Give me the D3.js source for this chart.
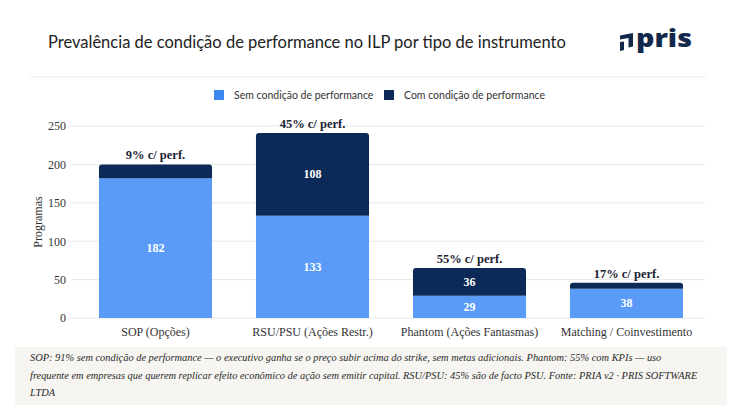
<!DOCTYPE html>
<html>
<head>
<meta charset="utf-8">
<script src="https://cdn.jsdelivr.net/npm/d3@7"></script>
<style>
  body { margin: 0; background: #fff; }
  svg { display: block; }
</style>
</head>
<body>
<div id="chart"></div>
<script>
// data
var categories = ["SOP (Opções)", "RSU/PSU (Ações Restr.)", "Phantom (Ações Fantasmas)", "Matching / Coinvestimento"];
var semPerf = [182, 133, 29, 38];
var comPerf = [18, 108, 36, 8];
var pctLabels = ["9% c/ perf.", "45% c/ perf.", "55% c/ perf.", "17% c/ perf."];
var yTicks = [0, 50, 100, 150, 200, 250];
var seriesNames = ["Sem condição de performance", "Com condição de performance"];
var footLines = [
  "SOP: 91% sem condição de performance — o executivo ganha se o preço subir acima do strike, sem metas adicionais. Phantom: 55% com KPIs — uso",
  "frequente em empresas que querem replicar efeito econômico de ação sem emitir capital. RSU/PSU: 45% são de facto PSU. Fonte: PRIA v2 · PRIS SOFTWARE",
  "LTDA"
];

var width = 740, height = 416;
var lightBlue = "#5a9bf7", navy = "#0c2a57";
var serif = "'Liberation Serif', serif";
var sans = "Lato, 'Noto Sans', sans-serif";

var svg = d3.select("#chart").append("svg")
  .attr("width", width).attr("height", height);

// title + logo
svg.append("text")
  .attr("x", 48).attr("y", 48)
  .style("font-family", sans).style("font-size", "16.5px").attr("fill", "#222")
  .text("Prevalência de condição de performance no ILP por tipo de instrumento");

var logo = svg.append("g").attr("transform", "translate(619,32)");
logo.append("path")
  .attr("d", "M1,3.5 L14,1 L14,14.5 L9.5,15.5 L9.5,6 L1,7.5 Z M1,10 L5,9.5 L5,18 L1,19 Z")
  .attr("fill", "#13294b");
logo.append("text")
  .attr("x", 17).attr("y", 14.5)
  .attr("textLength", 56).attr("lengthAdjust", "spacingAndGlyphs")
  .style("font-family", "'Open Sans', sans-serif").style("font-weight", 800).style("font-size", "24px")
  .attr("fill", "#13294b")
  .text("pris");

svg.append("line")
  .attr("x1", 30).attr("x2", 706).attr("y1", 77).attr("y2", 77)
  .attr("stroke", "#ececec").attr("stroke-width", 1.2);

// legend
var legendX = [214, 384];
var legend = svg.selectAll(".legend").data(seriesNames).enter().append("g")
  .attr("transform", (d, i) => "translate(" + legendX[i] + ",90)");
legend.append("rect").attr("width", 10).attr("height", 10)
  .attr("fill", (d, i) => i == 0 ? "#3d87f0" : navy);
legend.append("text").attr("x", 20).attr("y", 8.5)
  .style("font-family", sans).style("font-size", "10.5px").attr("fill", "#333")
  .text(d => d);

// scales
var x = d3.scaleBand().domain(categories).range([77, 705]).paddingInner(0.28).paddingOuter(0.14);
var y = d3.scaleLinear().domain([0, 250]).range([318, 126]);

// grid
svg.append("g").selectAll("line").data(yTicks).enter().append("line")
  .attr("x1", 72).attr("x2", 705)
  .attr("y1", d => y(d)).attr("y2", d => y(d))
  .attr("stroke", "#e8e8e8").attr("stroke-width", 1);

var yAxis = svg.append("g").attr("transform", "translate(72,0)")
  .call(d3.axisLeft(y).tickValues(yTicks).tickSize(0).tickPadding(6));
yAxis.select(".domain").remove();
yAxis.selectAll("text").style("font-family", serif).style("font-size", "12px").attr("fill", "#333");

svg.append("text")
  .attr("transform", "translate(42,222) rotate(-90)")
  .attr("text-anchor", "middle")
  .style("font-family", serif).style("font-size", "12px").attr("fill", "#333")
  .text("Programas");

var xAxis = svg.append("g").attr("transform", "translate(0,318)")
  .call(d3.axisBottom(x).tickSize(0).tickPadding(9));
xAxis.select(".domain").remove();
xAxis.selectAll("text").style("font-family", serif).style("font-size", "12px").attr("fill", "#333");

// bars
var rows = categories.map((c, i) => ({ cat: c, sem: semPerf[i], com: comPerf[i], pct: pctLabels[i] }));

function topRounded(x0, y0, w, h, r) {
  return "M" + x0 + "," + (y0 + h) + "V" + (y0 + r) + "Q" + x0 + "," + y0 + " " + (x0 + r) + "," + y0 +
    "H" + (x0 + w - r) + "Q" + (x0 + w) + "," + y0 + " " + (x0 + w) + "," + (y0 + r) + "V" + (y0 + h) + "Z";
}

var bars = svg.append("g").selectAll("g").data(rows).enter().append("g");

bars.append("rect")
  .attr("x", d => x(d.cat)).attr("width", x.bandwidth())
  .attr("y", d => y(d.sem)).attr("height", d => y(0) - y(d.sem))
  .attr("fill", lightBlue);

bars.append("path")
  .attr("d", d => topRounded(x(d.cat), y(d.sem + d.com), x.bandwidth(), y(d.sem) - y(d.sem + d.com), 3))
  .attr("fill", navy);

bars.filter(d => y(0) - y(d.sem) > 20).append("text")
  .attr("x", d => x(d.cat) + x.bandwidth() / 2)
  .attr("y", d => (y(0) + y(d.sem)) / 2 + 4)
  .attr("text-anchor", "middle")
  .style("font-family", serif).style("font-size", "12px").style("font-weight", 700).attr("fill", "#fff")
  .text(d => d.sem);

bars.filter(d => y(d.sem) - y(d.sem + d.com) > 20).append("text")
  .attr("x", d => x(d.cat) + x.bandwidth() / 2)
  .attr("y", d => (y(d.sem) + y(d.sem + d.com)) / 2 + 4)
  .attr("text-anchor", "middle")
  .style("font-family", serif).style("font-size", "12px").style("font-weight", 700).attr("fill", "#fff")
  .text(d => d.com);

bars.append("text")
  .attr("x", d => x(d.cat) + x.bandwidth() / 2)
  .attr("y", d => y(d.sem + d.com) - 5)
  .attr("text-anchor", "middle")
  .style("font-family", serif).style("font-size", "12.5px").style("font-weight", 700).attr("fill", "#1a2233")
  .text(d => d.pct);

// footer note - size the font so the longest line fills the box like the original
svg.append("rect")
  .attr("x", 15).attr("y", 347).attr("width", 712).attr("height", 58)
  .attr("fill", "#f6f5f1");
var foot = svg.append("g").selectAll("text").data(footLines).enter().append("text")
  .attr("x", 30).attr("y", (d, i) => 361 + i * 17.5)
  .style("font-family", serif).style("font-style", "italic").style("font-size", "12px").attr("fill", "#2a2a2a")
  .text(d => d);
var widest = d3.max(foot.nodes(), n => n.getComputedTextLength());
var footSize = Math.min(12.5, 12 * 668 / widest);
foot.style("font-size", footSize + "px");
</script>
</body>
</html>
